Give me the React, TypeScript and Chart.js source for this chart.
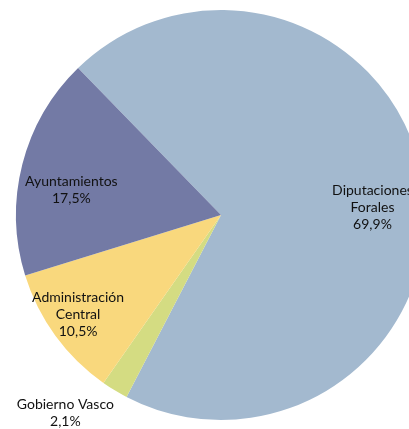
import React, { useEffect, useRef } from "react";
import { Chart, registerables } from "chart.js";

Chart.register(...registerables);

const categories = ["Diputaciones Forales", "Gobierno Vasco", "Administración Central", "Ayuntamientos"];
const labelLines = [["Diputaciones", "Forales"], ["Gobierno Vasco"], ["Administración", "Central"], ["Ayuntamientos"]];
const values = [69.9, 2.1, 10.5, 17.5];
const valueLabels = ["69,9%", "2,1%", "10,5%", "17,5%"];
const colors = ["#A3B9CF", "#D4DC82", "#F9D87D", "#737AA5"];

// label anchor: angle offset (deg) from slice middle and radius fraction
const labelPlace = [
  { dAngle: 5.4, r: 0.74 },
  { dAngle: 6.9, r: 1.23 },
  { dAngle: 1.2, r: 0.85 },
  { dAngle: -4.8, r: 0.74 },
];

const labelPlugin = {
  id: "sliceLabels",
  afterDatasetsDraw(chart: any) {
    const ctx = chart.ctx;
    const meta = chart.getDatasetMeta(0);
    ctx.save();
    ctx.font = "14px Lato";
    ctx.fillStyle = "#111111";
    ctx.textAlign = "center";
    ctx.textBaseline = "middle";
    meta.data.forEach((arc: any, i: number) => {
      const p = arc.getProps(["x", "y", "startAngle", "endAngle", "outerRadius"], true);
      const mid = (p.startAngle + p.endAngle) / 2 + (labelPlace[i].dAngle * Math.PI) / 180;
      const rr = p.outerRadius * labelPlace[i].r;
      const cx = p.x + Math.cos(mid) * rr;
      const cy = p.y + Math.sin(mid) * rr;
      const lines = [...labelLines[i], valueLabels[i]];
      const lh = 17;
      const top = cy - ((lines.length - 1) * lh) / 2;
      lines.forEach((t, k) => ctx.fillText(t, cx, top + k * lh));
    });
    ctx.restore();
  },
};

export default function App() {
  const ref = useRef<HTMLCanvasElement>(null);
  useEffect(() => {
    document.body.style.margin = "0";
    const chart = new Chart(ref.current!, {
      type: "pie",
      data: {
        labels: categories,
        datasets: [
          {
            data: values,
            backgroundColor: colors,
            borderWidth: 0,
          },
        ],
      },
      options: {
        animation: false,
        responsive: false,
        rotation: -44.2,
        layout: { padding: 10 },
        plugins: { legend: { display: false }, tooltip: { enabled: false } },
      },
      plugins: [labelPlugin],
    });
    return () => chart.destroy();
  }, []);
  return (
    <div style={{ width: 409, height: 429, overflow: "hidden", background: "#fff" }}>
      <canvas ref={ref} width={442} height={430} style={{ display: "block" }} />
    </div>
  );
}
